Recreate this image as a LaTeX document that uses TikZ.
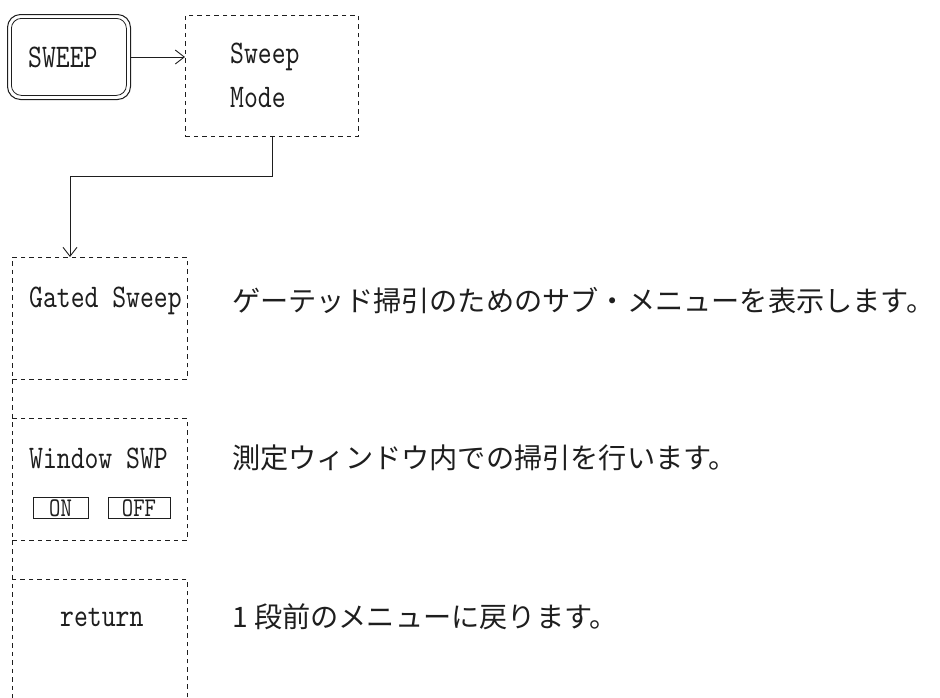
\documentclass[tikz,border=0pt]{standalone}
\usepackage{fontspec}
\usetikzlibrary{arrows.meta}
\newfontfamily\jpf{Noto Sans CJK JP}
\newfontfamily\monof{lmmono10-regular.otf}[FakeStretch=0.8]
\definecolor{ink}{HTML}{1E1E1E}
\newcommand{\monoset}[1]{\monof\fontsize{#1}{#1}\selectfont}
\begin{document}
\begin{tikzpicture}[x=1pt,y=-1pt,
  dbox/.style={draw=ink, line width=0.9pt, dash pattern=on 4.5pt off 4pt, inner sep=0pt, anchor=north west},
  en/.style={anchor=west, inner sep=0pt, text=ink, font=\monoset{33}},
  sm/.style={anchor=center, inner sep=0pt, text=ink, font=\monoset{27}},
  jp/.style={anchor=west, inner sep=0pt, text=ink, font=\jpf\fontsize{28.2}{28.2}\selectfont},
  conn/.style={draw=ink, line width=0.9pt},
  tip/.style={-{Straight Barb[length=9pt,width=14pt,line width=0.9pt]}}
]
\useasboundingbox (0,0) rectangle (940,697);
% SWEEP key
\node[draw=ink, line width=1pt, rounded corners=13pt, minimum width=123pt, minimum height=85pt, anchor=north west, inner sep=0pt] (sweep) at (7,14) {};
\node[draw=ink, line width=0.8pt, rounded corners=10pt, minimum width=115pt, minimum height=77pt, anchor=north west, inner sep=0pt] (sweepin) at (11,18) {};
\node[en] (sweept) at (28,57) {SWEEP};
% Sweep Mode
\node[dbox, minimum width=173pt, minimum height=121pt] (mode) at (185,15) {};
\node[en] (modet1) at (230,57) {Sweep};
\node[en] (modet2) at (230,98) {Mode};
\draw[conn, tip] (sweep.east) -- (mode.west |- sweep.east);
% left column
\node[dbox, minimum width=175pt, minimum height=122pt] (gated) at (12,257) {};
\node[dbox, minimum width=175pt, minimum height=122pt] (window) at (12,418) {};
\node[dbox, minimum width=175pt, minimum height=130pt] (ret) at (12,579) {};
\draw[draw=ink, line width=0.9pt, dash pattern=on 4.5pt off 4pt] (gated.south west) -- (window.north west);
\draw[draw=ink, line width=0.9pt, dash pattern=on 4.5pt off 4pt] (window.south west) -- (ret.north west);
\coordinate (bend1) at (272,176);
\coordinate (bend2) at (70,176);
\draw[conn, tip] (mode.south -| bend1) -- (bend1) -- (bend2) -- (bend2 |- gated.north);
% labels
\node[en] (gatedt) at (29,301) {Gated Sweep};
\node[en] (windowt) at (29,458) {Window SWP};
\node[draw=ink, line width=0.9pt, minimum width=55pt, minimum height=21pt, inner sep=0pt] (on) at (60.5,508) {};
\node[sm] (ont) at (on.center) {ON};
\node[draw=ink, line width=0.9pt, minimum width=62pt, minimum height=21pt, inner sep=0pt] (off) at (139,508) {};
\node[sm] (offt) at (off.center) {OFF};
\node[en] (rett) at (60,617) {return};
% descriptions
\node[jp] (d1) at (232,301) {ゲーテッド掃引のためのサブ・メニューを表示します。};
\node[jp] (d2) at (232,458) {測定ウィンドウ内での掃引を行います。};
\node[jp] (d3) at (232,617) {1 段前のメニューに戻ります。};
\end{tikzpicture}
\end{document}
